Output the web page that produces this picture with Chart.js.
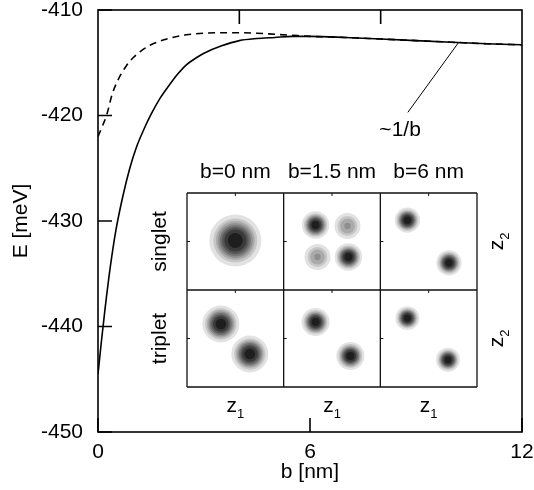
<!DOCTYPE html>
<html>
<head>
<meta charset="utf-8">
<script src="https://cdn.jsdelivr.net/npm/chart.js@4.4.1/dist/chart.umd.min.js"></script>
<style>
  html, body { margin: 0; padding: 0; background: #fff; }
  #wrap { position: relative; width: 534px; height: 490px; }
  #main { position: absolute; left: 0; top: 0; }
  #inset { position: absolute; left: 140px; top: 150px; }
</style>
</head>
<body>
<div id="wrap">
  <canvas id="main" width="534" height="490"></canvas>
  <canvas id="inset" width="380" height="280"></canvas>
</div>
<script>
// Two-electron energy E versus separation b
const bSolid = [0, 0.1, 0.2, 0.35, 0.5, 0.7, 0.9, 1.1, 1.3, 1.5, 1.75, 2.0, 2.25, 2.5, 2.75, 3.0, 3.5, 4.0, 4.5, 5.0, 5.5, 6.0, 7.0, 8.0, 9.0, 10.0, 11.0, 12.0];
const eSolid = [-444.5, -441.3, -438.3, -434.3, -431.0, -427.7, -425.0, -422.9, -421.3, -419.9, -418.4, -417.2, -416.1, -415.2, -414.6, -414.1, -413.4, -412.9, -412.7, -412.6, -412.5, -412.5, -412.6, -412.75, -412.9, -413.05, -413.2, -413.3];

const bDashed = [0, 0.1, 0.25, 0.4, 0.6, 0.8, 1.0, 1.25, 1.5, 2.0, 2.5, 3.0, 3.5, 4.0, 4.5, 5.0, 5.5, 6.0, 7.0, 8.0, 9.0, 10.0, 11.0, 12.0];
const eDashed = [-422.0, -421.2, -419.9, -418.0, -416.4, -415.3, -414.5, -413.8, -413.3, -412.7, -412.35, -412.2, -412.15, -412.15, -412.2, -412.3, -412.4, -412.5, -412.6, -412.75, -412.9, -413.05, -413.2, -413.3];

const xTicks = [0, 6, 12];
const yTicks = [-450, -440, -430, -420, -410];
const topTicks = [4, 8];

// "~1/b" pointer: from the curve to the label
const pointerFrom = [10.2, -413.1];
const pointerTo = [8.77, -419.7];
const pointerLabel = '~1/b';
const pointerLabelAt = [8.55, -421.4];

// Inset: pair densities in the (z1, z2) plane
const panelCols = ['b=0 nm', 'b=1.5 nm', 'b=6 nm'];
const panelRows = ['singlet', 'triplet'];
// each peak: [z1, z2, width, height]
const singletB0 = [[0.50, 0.51, 0.152, 1.0]];
const singletB15 = [[0.33, 0.67, 0.080, 1.0], [0.66, 0.66, 0.085, 0.45], [0.35, 0.34, 0.085, 0.45], [0.67, 0.34, 0.080, 1.0]];
const singletB6 = [[0.28, 0.72, 0.074, 1.0], [0.71, 0.28, 0.074, 1.0]];
const tripletB0 = [[0.35, 0.65, 0.108, 1.0], [0.65, 0.34, 0.108, 1.0]];
const tripletB15 = [[0.33, 0.67, 0.082, 1.0], [0.69, 0.32, 0.082, 1.0]];
const tripletB6 = [[0.28, 0.71, 0.070, 1.0], [0.70, 0.28, 0.070, 1.0]];
const panels = [[singletB0, singletB15, singletB6], [tripletB0, tripletB15, tripletB6]];

const FONT = '"Liberation Sans", Arial, Helvetica, sans-serif';
const FS = 21;
Chart.defaults.font.family = FONT;
Chart.defaults.color = '#000';

const toPoints = (xs, ys) => xs.map((x, i) => ({ x, y: ys[i] }));

const framePlugin = {
  id: 'frame',
  afterDraw(chart) {
    const { ctx, chartArea: a, scales: { x, y } } = chart;
    ctx.save();
    ctx.strokeStyle = '#000';
    ctx.lineWidth = 1.6;
    ctx.strokeRect(a.left, a.top, a.right - a.left, a.bottom - a.top);
    ctx.beginPath();
    const tick = 14;
    yTicks.forEach(v => {
      const py = y.getPixelForValue(v);
      ctx.moveTo(a.left, py); ctx.lineTo(a.left + tick, py);
    });
    xTicks.forEach(v => {
      const px = x.getPixelForValue(v);
      ctx.moveTo(px, a.bottom); ctx.lineTo(px, a.bottom - tick);
    });
    topTicks.forEach(v => {
      const px = x.getPixelForValue(v);
      ctx.moveTo(px, a.top); ctx.lineTo(px, a.top + tick);
    });
    ctx.stroke();
    // pointer line and its label
    ctx.lineWidth = 1;
    ctx.beginPath();
    ctx.moveTo(x.getPixelForValue(pointerFrom[0]), y.getPixelForValue(pointerFrom[1]));
    ctx.lineTo(x.getPixelForValue(pointerTo[0]), y.getPixelForValue(pointerTo[1]));
    ctx.stroke();
    ctx.fillStyle = '#000';
    ctx.font = FS + 'px ' + FONT;
    ctx.textAlign = 'center';
    ctx.textBaseline = 'middle';
    ctx.fillText(pointerLabel, x.getPixelForValue(pointerLabelAt[0]), y.getPixelForValue(pointerLabelAt[1]));
    ctx.restore();
  }
};

new Chart(document.getElementById('main'), {
  type: 'line',
  data: {
    datasets: [
      {
        data: toPoints(bSolid, eSolid),
        borderColor: '#000', borderWidth: 1.6, pointRadius: 0,
        cubicInterpolationMode: 'monotone', fill: false
      },
      {
        data: toPoints(bDashed, eDashed),
        borderColor: '#000', borderWidth: 1.6, borderDash: [7, 5], pointRadius: 0,
        cubicInterpolationMode: 'monotone', fill: false
      }
    ]
  },
  options: {
    responsive: false,
    animation: false,
    events: [],
    layout: { padding: { left: 9, right: 12, top: 10, bottom: 5 } },
    plugins: { legend: { display: false }, tooltip: { enabled: false } },
    scales: {
      x: {
        type: 'linear', min: 0, max: 12,
        grid: { display: false }, border: { display: false },
        afterBuildTicks: s => { s.ticks = xTicks.map(v => ({ value: v })); },
        ticks: { font: { size: FS }, padding: 0, maxRotation: 0 },
        title: { display: true, text: 'b [nm]', font: { size: FS }, padding: { top: 0, bottom: 0 } },
        afterFit: s => { s.height = 53; s.paddingLeft = 0; s.paddingRight = 0; }
      },
      y: {
        type: 'linear', min: -450, max: -410,
        grid: { display: false }, border: { display: false },
        afterBuildTicks: s => { s.ticks = yTicks.map(v => ({ value: v })); },
        ticks: { font: { size: FS }, padding: 7 },
        title: { display: true, text: 'E [meV]', font: { size: FS }, padding: { top: 0, bottom: 0 } },
        afterFit: s => { s.width = 89; s.paddingTop = 0; s.paddingBottom = 0; }
      }
    }
  },
  plugins: [framePlugin]
});

// ---- inset: filled contour maps built from the peaks above ----
const LEVELS = 8;
const SHAPE = 3;              // profile order of each peak
const levelValue = k => (k + 0.5) / LEVELS;
const levelGray = k => {
  const g = Math.round(226 - k * 196 / (LEVELS - 1));
  return `rgb(${g},${g},${g})`;
};

function contourRadius(raw, level, chart) {
  const xs = chart.scales.x;
  const unit = xs.getPixelForValue(1) - xs.getPixelForValue(0);
  if (level >= raw.h) return 0;
  return raw.w * unit * Math.pow(2 * Math.log(raw.h / level), 1 / SHAPE);
}

const peaks = [];
panels.forEach((row, r) => row.forEach((list, c) => list.forEach(([z1, z2, w, h]) => {
  peaks.push({ x: c + z1, y: (panelRows.length - 1 - r) + z2, w, h });
})));

const insetSets = [];
for (let k = LEVELS - 1; k >= 0; k--) {
  const L = levelValue(k);
  insetSets.push({
    data: peaks.filter(p => p.h > L),
    backgroundColor: levelGray(k),
    borderWidth: 0,
    pointRadius: ctx => contourRadius(ctx.raw, L, ctx.chart),
    pointHoverRadius: 0
  });
}

function drawSub(ctx, base, sub, x, y) {
  ctx.font = FS + 'px ' + FONT;
  const wb = ctx.measureText(base).width;
  ctx.font = '13px ' + FONT;
  const ws = ctx.measureText(sub).width;
  const x0 = x - (wb + ws) / 2;
  ctx.textAlign = 'left';
  ctx.textBaseline = 'alphabetic';
  ctx.font = FS + 'px ' + FONT;
  ctx.fillText(base, x0, y);
  ctx.font = '13px ' + FONT;
  ctx.fillText(sub, x0 + wb, y + 6);
}

const panelPlugin = {
  id: 'panels',
  beforeDatasetsDraw(chart) {
    const { ctx, chartArea: a } = chart;
    ctx.save();
    ctx.fillStyle = '#fff';
    ctx.fillRect(a.left, a.top, a.right - a.left, a.bottom - a.top);
    ctx.restore();
  },
  afterDatasetsDraw(chart) {
    const { ctx, chartArea: a, scales: { x, y } } = chart;
    const nc = panelCols.length, nr = panelRows.length;
    ctx.save();
    ctx.strokeStyle = '#111';
    ctx.lineWidth = 1.3;
    ctx.beginPath();
    for (let c = 0; c <= nc; c++) {
      const px = x.getPixelForValue(c);
      ctx.moveTo(px, a.top); ctx.lineTo(px, a.bottom);
    }
    for (let r = 0; r <= nr; r++) {
      const py = y.getPixelForValue(r);
      ctx.moveTo(a.left, py); ctx.lineTo(a.right, py);
    }
    ctx.stroke();
    // small inward ticks at the middle of each panel's top and left sides
    ctx.lineWidth = 1;
    ctx.beginPath();
    for (let c = 0; c < nc; c++) {
      for (let r = 0; r < nr; r++) {
        const mx = x.getPixelForValue(c + 0.5), my = y.getPixelForValue(r + 0.5);
        const tp = y.getPixelForValue(r + 1), lp = x.getPixelForValue(c);
        ctx.moveTo(mx, tp); ctx.lineTo(mx, tp + 3);
        ctx.moveTo(lp, my); ctx.lineTo(lp + 3, my);
      }
    }
    ctx.stroke();

    ctx.fillStyle = '#000';
    // column headings
    ctx.font = FS + 'px ' + FONT;
    ctx.textAlign = 'center';
    ctx.textBaseline = 'alphabetic';
    panelCols.forEach((t, c) => ctx.fillText(t, x.getPixelForValue(c + 0.5), a.top - 15));
    // z1 labels under each column
    for (let c = 0; c < nc; c++) drawSub(ctx, 'z', '1', x.getPixelForValue(c + 0.5), a.bottom + 25);
    // row labels and z2 labels
    panelRows.forEach((t, r) => {
      const cy = y.getPixelForValue(nr - 1 - r + 0.5);
      ctx.save();
      ctx.translate(a.left - 21, cy);
      ctx.rotate(-Math.PI / 2);
      ctx.font = FS + 'px ' + FONT;
      ctx.textAlign = 'center';
      ctx.textBaseline = 'alphabetic';
      ctx.fillText(t, 0, 0);
      ctx.restore();

      ctx.save();
      ctx.translate(a.right + 26, cy);
      ctx.rotate(-Math.PI / 2);
      drawSub(ctx, 'z', '2', 0, 0);
      ctx.restore();
    });
    ctx.restore();
  }
};

new Chart(document.getElementById('inset'), {
  type: 'scatter',
  data: { datasets: insetSets },
  options: {
    responsive: false,
    animation: false,
    events: [],
    layout: { padding: { left: 47, right: 43, top: 43, bottom: 43 } },
    plugins: { legend: { display: false }, tooltip: { enabled: false } },
    scales: {
      x: { type: 'linear', min: 0, max: panelCols.length, display: false },
      y: { type: 'linear', min: 0, max: panelRows.length, display: false }
    }
  },
  plugins: [panelPlugin]
});
</script>
</body>
</html>
